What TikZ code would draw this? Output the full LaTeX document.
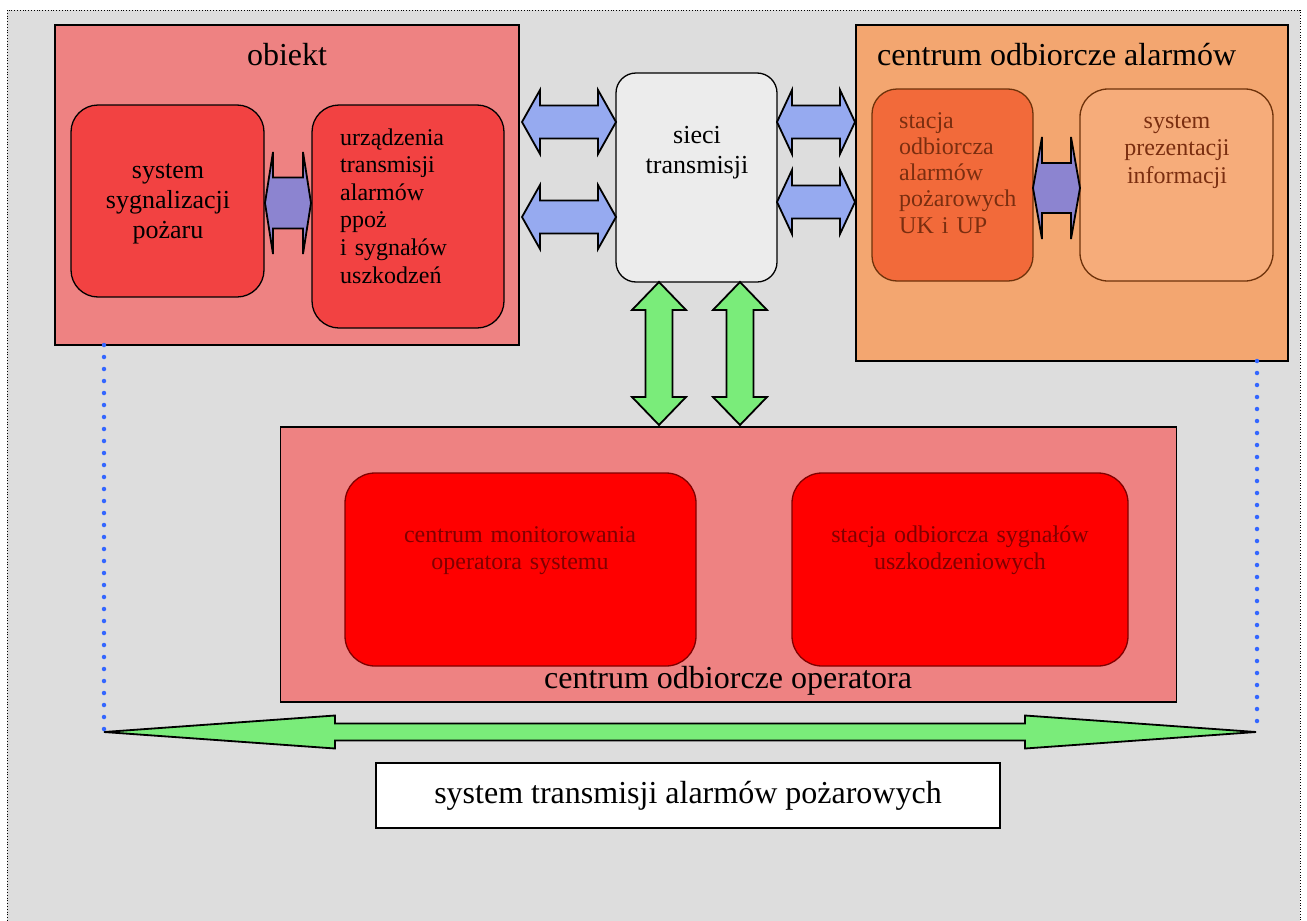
\documentclass[tikz,border=0pt]{standalone}
\usepackage{fontspec}
\setmainfont{Liberation Serif}
\definecolor{bggray}{RGB}{221,221,221}
\definecolor{pinkbox}{RGB}{238,130,130}
\definecolor{redbox}{RGB}{242,66,66}
\definecolor{purered}{RGB}{255,0,0}
\definecolor{orangebg}{RGB}{243,166,112}
\definecolor{orangered}{RGB}{242,106,58}
\definecolor{prezfill}{RGB}{246,172,122}
\definecolor{sieci}{RGB}{236,236,236}
\definecolor{bluearr}{RGB}{150,170,240}
\definecolor{purplearr}{RGB}{140,132,208}
\definecolor{greenarr}{RGB}{122,236,122}
\definecolor{browntxt}{RGB}{122,46,16}
\definecolor{brownline}{RGB}{110,50,10}
\definecolor{darkredtxt}{RGB}{128,0,0}
\definecolor{dotblue}{RGB}{51,102,255}
\newcommand\hdarr[7]{%
  \draw[#1] (#2,#4) -- (#2+#7,#4-#5) -- (#2+#7,#4-#6) -- (#3-#7,#4-#6) -- (#3-#7,#4-#5) -- (#3,#4)
    -- (#3-#7,#4+#5) -- (#3-#7,#4+#6) -- (#2+#7,#4+#6) -- (#2+#7,#4+#5) -- cycle;}
\newcommand\vdarr[7]{%
  \draw[#1] (#2,#3) -- (#2+#5,#3+#7) -- (#2+#6,#3+#7) -- (#2+#6,#4-#7) -- (#2+#5,#4-#7) -- (#2,#4)
    -- (#2-#5,#4-#7) -- (#2-#6,#4-#7) -- (#2-#6,#3+#7) -- (#2-#5,#3+#7) -- cycle;}
\tikzset{
  bigbox/.style={draw=black, line width=1.6pt, rectangle, inner sep=0pt, outer sep=0pt},
  rbox/.style={draw=black, line width=1.3pt, rectangle, rounded corners=27pt, inner sep=0pt, outer sep=0pt},
  title/.style={font=\fontsize{32}{36}\selectfont, inner sep=0pt, anchor=base},
  body/.style={font=\fontsize{24}{27.6}\selectfont, inner sep=0pt, anchor=base},
  arrline/.style={draw=black, line width=1.8pt, line join=miter},
  dotline/.style={dotblue, line width=4.5pt, line cap=round, dash pattern=on 0pt off 12pt},
}
\begin{document}
\begin{tikzpicture}[x=1pt, y=-1pt]
\useasboundingbox (0,0) rectangle (1307,921);
\fill[white] (0,0) rectangle (1307,921);
\filldraw[fill=bggray, draw=black, line width=0.8pt, dotted] (7,10) rectangle (1300,940);

% big containers
\node[bigbox, fill=pinkbox, minimum width=464, minimum height=320] (obiekt) at (287,185) {};
\node[bigbox, fill=orangebg, minimum width=432, minimum height=336] (coa) at (1072,193) {};
\node[bigbox, fill=pinkbox, minimum width=896, minimum height=275] (coo) at (728.5,564.5) {};
\node[bigbox, fill=white, minimum width=624, minimum height=65] (stap) at (688,795.5) {};

% inner boxes
\node[rbox, fill=redbox, minimum width=193, minimum height=192] (ssp) at (167.5,201) {};
\node[rbox, fill=redbox, minimum width=192, minimum height=223] (utr) at (408,216.5) {};
\node[rbox, fill=sieci, rounded corners=20pt, minimum width=161, minimum height=209] (sieci) at (696.5,177.5) {};
\node[rbox, draw=brownline, fill=orangered, rounded corners=25pt, minimum width=161, minimum height=192] (soa) at (952.5,185) {};
\node[rbox, draw=brownline, fill=prezfill, rounded corners=28pt, minimum width=193, minimum height=192] (spi) at (1176.5,185) {};
\node[rbox, draw=darkredtxt, fill=purered, rounded corners=30pt, minimum width=351, minimum height=193] (cmos) at (520.5,569.5) {};
\node[rbox, draw=darkredtxt, fill=purered, rounded corners=30pt, minimum width=336, minimum height=193] (sosu) at (960,569.5) {};

% block arrows
\hdarr{arrline, fill=purplearr}{265}{311}{203}{51}{25.5}{8}
\hdarr{arrline, fill=purplearr}{1033}{1080}{188}{51}{25}{9}
\hdarr{arrline, fill=bluearr}{522}{616}{122}{32}{16.5}{18}
\hdarr{arrline, fill=bluearr}{522}{616}{217}{32}{16.5}{18}
\hdarr{arrline, fill=bluearr}{777}{855}{122}{32}{16.5}{15}
\hdarr{arrline, fill=bluearr}{777}{855}{202}{32}{16.5}{15}
\vdarr{arrline, fill=greenarr}{659}{282}{425}{27}{13.5}{28}
\vdarr{arrline, fill=greenarr}{740}{282}{425}{27}{13.5}{28}
\hdarr{arrline, fill=greenarr}{104}{1256}{732}{16.5}{8.5}{231}

% dotted guide lines
\coordinate (dl1) at (104,730);
\coordinate (dl2) at (1257,730);
\draw[dotline] (104,345) -- (dl1);
\draw[dotline] (1257,361) -- (dl2);

% texts
\node[title] (t-obiekt) at (287,65) {obiekt};
\node[title, anchor=base west] (t-coa) at (877,65) {centrum odbiorcze alarmów};
\node[title] (t-coo) at (728,688) {centrum odbiorcze operatora};
\node[title] (t-stap) at (688,803) {system transmisji alarmów pożarowych};

\node[body, font=\fontsize{26}{30}\selectfont, text width=185, align=center] (t-ssp) at (168,178) {system\\sygnalizacji\\pożaru};
\node[body, anchor=base west, text width=164, align=left] (t-utr) at (340,145) {urządzenia\\transmisji\\alarmów\\ppoż\\i sygnałów\\uszkodzeń};
\node[body, font=\fontsize{26}{30}\selectfont, text width=150, align=center] (t-sieci) at (697,143) {sieci\\transmisji};
\node[body, font=\fontsize{24}{26.3}\selectfont, text=browntxt, anchor=base west, text width=130, align=left] (t-soa) at (899,128) {stacja\\odbiorcza\\alarmów\\pożarowych\\UK i UP};
\node[body, text=browntxt, text width=180, align=center] (t-spi) at (1177,128) {system\\prezentacji\\informacji};
\node[body, font=\fontsize{24}{27}\selectfont, text=darkredtxt, text width=320, align=center] (t-cmos) at (520,542) {centrum monitorowania\\operatora systemu};
\node[body, font=\fontsize{24}{27}\selectfont, text=darkredtxt, text width=320, align=center] (t-sosu) at (960,542) {stacja odbiorcza sygnałów\\uszkodzeniowych};
\end{tikzpicture}
\end{document}
